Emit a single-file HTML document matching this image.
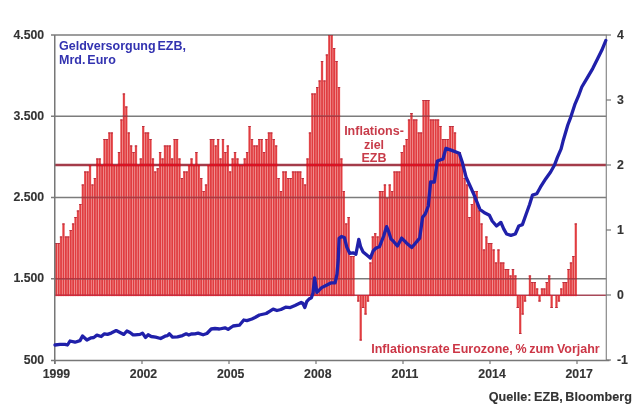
<!DOCTYPE html><html><head><meta charset="utf-8"><style>html,body{margin:0;padding:0;background:#fff;}svg{display:block;filter:blur(0.5px);}text{font-family:"Liberation Sans",sans-serif;font-weight:bold;}</style></head><body>
<svg width="640" height="417" viewBox="0 0 640 417">
<rect width="640" height="417" fill="#fff"/>
<defs><clipPath id="bc"><rect x="55.00" y="243.00" width="2.44" height="53.10"/><rect x="57.42" y="243.00" width="2.44" height="53.10"/><rect x="59.83" y="236.50" width="2.44" height="59.60"/><rect x="62.25" y="223.50" width="2.44" height="72.60"/><rect x="64.67" y="236.50" width="2.44" height="59.60"/><rect x="67.08" y="236.50" width="2.44" height="59.60"/><rect x="69.50" y="230.00" width="2.44" height="66.10"/><rect x="71.92" y="223.50" width="2.44" height="72.60"/><rect x="74.33" y="217.00" width="2.44" height="79.10"/><rect x="76.75" y="210.50" width="2.44" height="85.60"/><rect x="79.17" y="204.00" width="2.44" height="92.10"/><rect x="81.58" y="184.50" width="2.44" height="111.60"/><rect x="84.00" y="171.50" width="2.44" height="124.60"/><rect x="86.42" y="171.50" width="2.44" height="124.60"/><rect x="88.83" y="165.00" width="2.44" height="131.10"/><rect x="91.25" y="184.50" width="2.44" height="111.60"/><rect x="93.67" y="178.00" width="2.44" height="118.10"/><rect x="96.08" y="158.50" width="2.44" height="137.60"/><rect x="98.50" y="158.50" width="2.44" height="137.60"/><rect x="100.92" y="165.00" width="2.44" height="131.10"/><rect x="103.33" y="139.00" width="2.44" height="157.10"/><rect x="105.75" y="139.00" width="2.44" height="157.10"/><rect x="108.17" y="132.50" width="2.44" height="163.60"/><rect x="110.58" y="132.50" width="2.44" height="163.60"/><rect x="113.00" y="165.00" width="2.44" height="131.10"/><rect x="115.42" y="165.00" width="2.44" height="131.10"/><rect x="117.83" y="152.00" width="2.44" height="144.10"/><rect x="120.25" y="119.50" width="2.44" height="176.60"/><rect x="122.67" y="93.50" width="2.44" height="202.60"/><rect x="125.08" y="106.50" width="2.44" height="189.60"/><rect x="127.50" y="132.50" width="2.44" height="163.60"/><rect x="129.92" y="145.50" width="2.44" height="150.60"/><rect x="132.33" y="152.00" width="2.44" height="144.10"/><rect x="134.75" y="145.50" width="2.44" height="150.60"/><rect x="137.17" y="165.00" width="2.44" height="131.10"/><rect x="139.58" y="158.50" width="2.44" height="137.60"/><rect x="142.00" y="126.00" width="2.44" height="170.10"/><rect x="144.42" y="132.50" width="2.44" height="163.60"/><rect x="146.83" y="132.50" width="2.44" height="163.60"/><rect x="149.25" y="139.00" width="2.44" height="157.10"/><rect x="151.67" y="158.50" width="2.44" height="137.60"/><rect x="154.08" y="171.50" width="2.44" height="124.60"/><rect x="156.50" y="168.25" width="2.44" height="127.85"/><rect x="158.92" y="152.00" width="2.44" height="144.10"/><rect x="161.33" y="158.50" width="2.44" height="137.60"/><rect x="163.75" y="145.50" width="2.44" height="150.60"/><rect x="166.17" y="145.50" width="2.44" height="150.60"/><rect x="168.58" y="145.50" width="2.44" height="150.60"/><rect x="171.00" y="158.50" width="2.44" height="137.60"/><rect x="173.42" y="139.00" width="2.44" height="157.10"/><rect x="175.83" y="139.00" width="2.44" height="157.10"/><rect x="178.25" y="158.50" width="2.44" height="137.60"/><rect x="180.67" y="178.00" width="2.44" height="118.10"/><rect x="183.08" y="171.50" width="2.44" height="124.60"/><rect x="185.50" y="171.50" width="2.44" height="124.60"/><rect x="187.92" y="165.00" width="2.44" height="131.10"/><rect x="190.33" y="158.50" width="2.44" height="137.60"/><rect x="192.75" y="165.00" width="2.44" height="131.10"/><rect x="195.17" y="152.00" width="2.44" height="144.10"/><rect x="197.58" y="165.00" width="2.44" height="131.10"/><rect x="200.00" y="178.00" width="2.44" height="118.10"/><rect x="202.42" y="191.00" width="2.44" height="105.10"/><rect x="204.83" y="184.50" width="2.44" height="111.60"/><rect x="207.25" y="165.00" width="2.44" height="131.10"/><rect x="209.67" y="139.00" width="2.44" height="157.10"/><rect x="212.08" y="139.00" width="2.44" height="157.10"/><rect x="214.50" y="145.50" width="2.44" height="150.60"/><rect x="216.92" y="139.00" width="2.44" height="157.10"/><rect x="219.33" y="158.50" width="2.44" height="137.60"/><rect x="221.75" y="139.00" width="2.44" height="157.10"/><rect x="224.17" y="152.00" width="2.44" height="144.10"/><rect x="226.58" y="145.50" width="2.44" height="150.60"/><rect x="229.00" y="171.50" width="2.44" height="124.60"/><rect x="231.42" y="158.50" width="2.44" height="137.60"/><rect x="233.83" y="152.00" width="2.44" height="144.10"/><rect x="236.25" y="158.50" width="2.44" height="137.60"/><rect x="238.67" y="165.00" width="2.44" height="131.10"/><rect x="241.08" y="165.00" width="2.44" height="131.10"/><rect x="243.50" y="158.50" width="2.44" height="137.60"/><rect x="245.92" y="152.00" width="2.44" height="144.10"/><rect x="248.33" y="126.00" width="2.44" height="170.10"/><rect x="250.75" y="139.00" width="2.44" height="157.10"/><rect x="253.17" y="145.50" width="2.44" height="150.60"/><rect x="255.58" y="145.50" width="2.44" height="150.60"/><rect x="258.00" y="139.00" width="2.44" height="157.10"/><rect x="260.42" y="139.00" width="2.44" height="157.10"/><rect x="262.83" y="152.00" width="2.44" height="144.10"/><rect x="265.25" y="139.00" width="2.44" height="157.10"/><rect x="267.67" y="132.50" width="2.44" height="163.60"/><rect x="270.08" y="132.50" width="2.44" height="163.60"/><rect x="272.50" y="139.00" width="2.44" height="157.10"/><rect x="274.92" y="145.50" width="2.44" height="150.60"/><rect x="277.33" y="178.00" width="2.44" height="118.10"/><rect x="279.75" y="191.00" width="2.44" height="105.10"/><rect x="282.17" y="171.50" width="2.44" height="124.60"/><rect x="284.58" y="171.50" width="2.44" height="124.60"/><rect x="287.00" y="178.00" width="2.44" height="118.10"/><rect x="289.42" y="178.00" width="2.44" height="118.10"/><rect x="291.83" y="171.50" width="2.44" height="124.60"/><rect x="294.25" y="171.50" width="2.44" height="124.60"/><rect x="296.67" y="171.50" width="2.44" height="124.60"/><rect x="299.08" y="171.50" width="2.44" height="124.60"/><rect x="301.50" y="178.00" width="2.44" height="118.10"/><rect x="303.92" y="184.50" width="2.44" height="111.60"/><rect x="306.33" y="158.50" width="2.44" height="137.60"/><rect x="308.75" y="132.50" width="2.44" height="163.60"/><rect x="311.17" y="93.50" width="2.44" height="202.60"/><rect x="313.58" y="93.50" width="2.44" height="202.60"/><rect x="316.00" y="87.00" width="2.44" height="209.10"/><rect x="318.42" y="80.50" width="2.44" height="215.60"/><rect x="320.83" y="61.00" width="2.44" height="235.10"/><rect x="323.25" y="80.50" width="2.44" height="215.60"/><rect x="325.67" y="54.50" width="2.44" height="241.60"/><rect x="328.08" y="35.00" width="2.44" height="261.10"/><rect x="330.50" y="35.00" width="2.44" height="261.10"/><rect x="332.92" y="48.00" width="2.44" height="248.10"/><rect x="335.33" y="61.00" width="2.44" height="235.10"/><rect x="337.75" y="87.00" width="2.44" height="209.10"/><rect x="340.17" y="158.50" width="2.44" height="137.60"/><rect x="342.58" y="191.00" width="2.44" height="105.10"/><rect x="345.00" y="223.50" width="2.44" height="72.60"/><rect x="347.42" y="217.00" width="2.44" height="79.10"/><rect x="349.83" y="256.00" width="2.44" height="40.10"/><rect x="352.25" y="256.00" width="2.44" height="40.10"/><rect x="354.67" y="295.00" width="2.44" height="0.00"/><rect x="357.08" y="295.00" width="2.44" height="6.50"/><rect x="359.50" y="295.00" width="2.44" height="45.50"/><rect x="361.92" y="295.00" width="2.44" height="13.00"/><rect x="364.33" y="295.00" width="2.44" height="19.50"/><rect x="366.75" y="295.00" width="2.44" height="6.50"/><rect x="369.17" y="262.50" width="2.44" height="33.60"/><rect x="371.58" y="236.50" width="2.44" height="59.60"/><rect x="374.00" y="233.25" width="2.44" height="62.85"/><rect x="376.42" y="236.50" width="2.44" height="59.60"/><rect x="378.83" y="191.00" width="2.44" height="105.10"/><rect x="381.25" y="191.00" width="2.44" height="105.10"/><rect x="383.67" y="184.50" width="2.44" height="111.60"/><rect x="386.08" y="197.50" width="2.44" height="98.60"/><rect x="388.50" y="184.50" width="2.44" height="111.60"/><rect x="390.92" y="191.00" width="2.44" height="105.10"/><rect x="393.33" y="171.50" width="2.44" height="124.60"/><rect x="395.75" y="171.50" width="2.44" height="124.60"/><rect x="398.17" y="171.50" width="2.44" height="124.60"/><rect x="400.58" y="152.00" width="2.44" height="144.10"/><rect x="403.00" y="145.50" width="2.44" height="150.60"/><rect x="405.42" y="139.00" width="2.44" height="157.10"/><rect x="407.83" y="119.50" width="2.44" height="176.60"/><rect x="410.25" y="113.00" width="2.44" height="183.10"/><rect x="412.67" y="119.50" width="2.44" height="176.60"/><rect x="415.08" y="119.50" width="2.44" height="176.60"/><rect x="417.50" y="132.50" width="2.44" height="163.60"/><rect x="419.92" y="132.50" width="2.44" height="163.60"/><rect x="422.33" y="100.00" width="2.44" height="196.10"/><rect x="424.75" y="100.00" width="2.44" height="196.10"/><rect x="427.17" y="100.00" width="2.44" height="196.10"/><rect x="429.58" y="119.50" width="2.44" height="176.60"/><rect x="432.00" y="119.50" width="2.44" height="176.60"/><rect x="434.42" y="119.50" width="2.44" height="176.60"/><rect x="436.83" y="119.50" width="2.44" height="176.60"/><rect x="439.25" y="126.00" width="2.44" height="170.10"/><rect x="441.67" y="139.00" width="2.44" height="157.10"/><rect x="444.08" y="139.00" width="2.44" height="157.10"/><rect x="446.50" y="139.00" width="2.44" height="157.10"/><rect x="448.92" y="126.00" width="2.44" height="170.10"/><rect x="451.33" y="126.00" width="2.44" height="170.10"/><rect x="453.75" y="132.50" width="2.44" height="163.60"/><rect x="456.17" y="152.00" width="2.44" height="144.10"/><rect x="458.58" y="152.00" width="2.44" height="144.10"/><rect x="461.00" y="165.00" width="2.44" height="131.10"/><rect x="463.42" y="178.00" width="2.44" height="118.10"/><rect x="465.83" y="184.50" width="2.44" height="111.60"/><rect x="468.25" y="217.00" width="2.44" height="79.10"/><rect x="470.67" y="204.00" width="2.44" height="92.10"/><rect x="473.08" y="191.00" width="2.44" height="105.10"/><rect x="475.50" y="191.00" width="2.44" height="105.10"/><rect x="477.92" y="210.50" width="2.44" height="85.60"/><rect x="480.33" y="223.50" width="2.44" height="72.60"/><rect x="482.75" y="249.50" width="2.44" height="46.60"/><rect x="485.17" y="236.50" width="2.44" height="59.60"/><rect x="487.58" y="243.00" width="2.44" height="53.10"/><rect x="490.00" y="243.00" width="2.44" height="53.10"/><rect x="492.42" y="249.50" width="2.44" height="46.60"/><rect x="494.83" y="262.50" width="2.44" height="33.60"/><rect x="497.25" y="249.50" width="2.44" height="46.60"/><rect x="499.67" y="262.50" width="2.44" height="33.60"/><rect x="502.08" y="262.50" width="2.44" height="33.60"/><rect x="504.50" y="269.00" width="2.44" height="27.10"/><rect x="506.92" y="269.00" width="2.44" height="27.10"/><rect x="509.33" y="275.50" width="2.44" height="20.60"/><rect x="511.75" y="269.00" width="2.44" height="27.10"/><rect x="514.17" y="275.50" width="2.44" height="20.60"/><rect x="516.58" y="295.00" width="2.44" height="13.00"/><rect x="519.00" y="295.00" width="2.44" height="39.00"/><rect x="521.42" y="295.00" width="2.44" height="19.50"/><rect x="523.83" y="295.00" width="2.44" height="6.50"/><rect x="526.25" y="295.00" width="2.44" height="0.00"/><rect x="528.67" y="275.50" width="2.44" height="20.60"/><rect x="531.08" y="282.00" width="2.44" height="14.10"/><rect x="533.50" y="282.00" width="2.44" height="14.10"/><rect x="535.92" y="288.50" width="2.44" height="7.60"/><rect x="538.33" y="295.00" width="2.44" height="6.50"/><rect x="540.75" y="288.50" width="2.44" height="7.60"/><rect x="543.17" y="288.50" width="2.44" height="7.60"/><rect x="545.58" y="282.00" width="2.44" height="14.10"/><rect x="548.00" y="275.50" width="2.44" height="20.60"/><rect x="550.42" y="295.00" width="2.44" height="13.00"/><rect x="552.83" y="295.00" width="2.44" height="0.00"/><rect x="555.25" y="295.00" width="2.44" height="13.00"/><rect x="557.67" y="295.00" width="2.44" height="6.50"/><rect x="560.08" y="288.50" width="2.44" height="7.60"/><rect x="562.50" y="282.00" width="2.44" height="14.10"/><rect x="564.92" y="282.00" width="2.44" height="14.10"/><rect x="567.33" y="269.00" width="2.44" height="27.10"/><rect x="569.75" y="262.50" width="2.44" height="33.60"/><rect x="572.17" y="256.00" width="2.44" height="40.10"/><rect x="574.58" y="223.50" width="2.44" height="72.60"/></clipPath></defs>
<g fill="#f29898"><rect x="55.00" y="243.00" width="2.44" height="53.10"/><rect x="57.42" y="243.00" width="2.44" height="53.10"/><rect x="59.83" y="236.50" width="2.44" height="59.60"/><rect x="62.25" y="223.50" width="2.44" height="72.60"/><rect x="64.67" y="236.50" width="2.44" height="59.60"/><rect x="67.08" y="236.50" width="2.44" height="59.60"/><rect x="69.50" y="230.00" width="2.44" height="66.10"/><rect x="71.92" y="223.50" width="2.44" height="72.60"/><rect x="74.33" y="217.00" width="2.44" height="79.10"/><rect x="76.75" y="210.50" width="2.44" height="85.60"/><rect x="79.17" y="204.00" width="2.44" height="92.10"/><rect x="81.58" y="184.50" width="2.44" height="111.60"/><rect x="84.00" y="171.50" width="2.44" height="124.60"/><rect x="86.42" y="171.50" width="2.44" height="124.60"/><rect x="88.83" y="165.00" width="2.44" height="131.10"/><rect x="91.25" y="184.50" width="2.44" height="111.60"/><rect x="93.67" y="178.00" width="2.44" height="118.10"/><rect x="96.08" y="158.50" width="2.44" height="137.60"/><rect x="98.50" y="158.50" width="2.44" height="137.60"/><rect x="100.92" y="165.00" width="2.44" height="131.10"/><rect x="103.33" y="139.00" width="2.44" height="157.10"/><rect x="105.75" y="139.00" width="2.44" height="157.10"/><rect x="108.17" y="132.50" width="2.44" height="163.60"/><rect x="110.58" y="132.50" width="2.44" height="163.60"/><rect x="113.00" y="165.00" width="2.44" height="131.10"/><rect x="115.42" y="165.00" width="2.44" height="131.10"/><rect x="117.83" y="152.00" width="2.44" height="144.10"/><rect x="120.25" y="119.50" width="2.44" height="176.60"/><rect x="122.67" y="93.50" width="2.44" height="202.60"/><rect x="125.08" y="106.50" width="2.44" height="189.60"/><rect x="127.50" y="132.50" width="2.44" height="163.60"/><rect x="129.92" y="145.50" width="2.44" height="150.60"/><rect x="132.33" y="152.00" width="2.44" height="144.10"/><rect x="134.75" y="145.50" width="2.44" height="150.60"/><rect x="137.17" y="165.00" width="2.44" height="131.10"/><rect x="139.58" y="158.50" width="2.44" height="137.60"/><rect x="142.00" y="126.00" width="2.44" height="170.10"/><rect x="144.42" y="132.50" width="2.44" height="163.60"/><rect x="146.83" y="132.50" width="2.44" height="163.60"/><rect x="149.25" y="139.00" width="2.44" height="157.10"/><rect x="151.67" y="158.50" width="2.44" height="137.60"/><rect x="154.08" y="171.50" width="2.44" height="124.60"/><rect x="156.50" y="168.25" width="2.44" height="127.85"/><rect x="158.92" y="152.00" width="2.44" height="144.10"/><rect x="161.33" y="158.50" width="2.44" height="137.60"/><rect x="163.75" y="145.50" width="2.44" height="150.60"/><rect x="166.17" y="145.50" width="2.44" height="150.60"/><rect x="168.58" y="145.50" width="2.44" height="150.60"/><rect x="171.00" y="158.50" width="2.44" height="137.60"/><rect x="173.42" y="139.00" width="2.44" height="157.10"/><rect x="175.83" y="139.00" width="2.44" height="157.10"/><rect x="178.25" y="158.50" width="2.44" height="137.60"/><rect x="180.67" y="178.00" width="2.44" height="118.10"/><rect x="183.08" y="171.50" width="2.44" height="124.60"/><rect x="185.50" y="171.50" width="2.44" height="124.60"/><rect x="187.92" y="165.00" width="2.44" height="131.10"/><rect x="190.33" y="158.50" width="2.44" height="137.60"/><rect x="192.75" y="165.00" width="2.44" height="131.10"/><rect x="195.17" y="152.00" width="2.44" height="144.10"/><rect x="197.58" y="165.00" width="2.44" height="131.10"/><rect x="200.00" y="178.00" width="2.44" height="118.10"/><rect x="202.42" y="191.00" width="2.44" height="105.10"/><rect x="204.83" y="184.50" width="2.44" height="111.60"/><rect x="207.25" y="165.00" width="2.44" height="131.10"/><rect x="209.67" y="139.00" width="2.44" height="157.10"/><rect x="212.08" y="139.00" width="2.44" height="157.10"/><rect x="214.50" y="145.50" width="2.44" height="150.60"/><rect x="216.92" y="139.00" width="2.44" height="157.10"/><rect x="219.33" y="158.50" width="2.44" height="137.60"/><rect x="221.75" y="139.00" width="2.44" height="157.10"/><rect x="224.17" y="152.00" width="2.44" height="144.10"/><rect x="226.58" y="145.50" width="2.44" height="150.60"/><rect x="229.00" y="171.50" width="2.44" height="124.60"/><rect x="231.42" y="158.50" width="2.44" height="137.60"/><rect x="233.83" y="152.00" width="2.44" height="144.10"/><rect x="236.25" y="158.50" width="2.44" height="137.60"/><rect x="238.67" y="165.00" width="2.44" height="131.10"/><rect x="241.08" y="165.00" width="2.44" height="131.10"/><rect x="243.50" y="158.50" width="2.44" height="137.60"/><rect x="245.92" y="152.00" width="2.44" height="144.10"/><rect x="248.33" y="126.00" width="2.44" height="170.10"/><rect x="250.75" y="139.00" width="2.44" height="157.10"/><rect x="253.17" y="145.50" width="2.44" height="150.60"/><rect x="255.58" y="145.50" width="2.44" height="150.60"/><rect x="258.00" y="139.00" width="2.44" height="157.10"/><rect x="260.42" y="139.00" width="2.44" height="157.10"/><rect x="262.83" y="152.00" width="2.44" height="144.10"/><rect x="265.25" y="139.00" width="2.44" height="157.10"/><rect x="267.67" y="132.50" width="2.44" height="163.60"/><rect x="270.08" y="132.50" width="2.44" height="163.60"/><rect x="272.50" y="139.00" width="2.44" height="157.10"/><rect x="274.92" y="145.50" width="2.44" height="150.60"/><rect x="277.33" y="178.00" width="2.44" height="118.10"/><rect x="279.75" y="191.00" width="2.44" height="105.10"/><rect x="282.17" y="171.50" width="2.44" height="124.60"/><rect x="284.58" y="171.50" width="2.44" height="124.60"/><rect x="287.00" y="178.00" width="2.44" height="118.10"/><rect x="289.42" y="178.00" width="2.44" height="118.10"/><rect x="291.83" y="171.50" width="2.44" height="124.60"/><rect x="294.25" y="171.50" width="2.44" height="124.60"/><rect x="296.67" y="171.50" width="2.44" height="124.60"/><rect x="299.08" y="171.50" width="2.44" height="124.60"/><rect x="301.50" y="178.00" width="2.44" height="118.10"/><rect x="303.92" y="184.50" width="2.44" height="111.60"/><rect x="306.33" y="158.50" width="2.44" height="137.60"/><rect x="308.75" y="132.50" width="2.44" height="163.60"/><rect x="311.17" y="93.50" width="2.44" height="202.60"/><rect x="313.58" y="93.50" width="2.44" height="202.60"/><rect x="316.00" y="87.00" width="2.44" height="209.10"/><rect x="318.42" y="80.50" width="2.44" height="215.60"/><rect x="320.83" y="61.00" width="2.44" height="235.10"/><rect x="323.25" y="80.50" width="2.44" height="215.60"/><rect x="325.67" y="54.50" width="2.44" height="241.60"/><rect x="328.08" y="35.00" width="2.44" height="261.10"/><rect x="330.50" y="35.00" width="2.44" height="261.10"/><rect x="332.92" y="48.00" width="2.44" height="248.10"/><rect x="335.33" y="61.00" width="2.44" height="235.10"/><rect x="337.75" y="87.00" width="2.44" height="209.10"/><rect x="340.17" y="158.50" width="2.44" height="137.60"/><rect x="342.58" y="191.00" width="2.44" height="105.10"/><rect x="345.00" y="223.50" width="2.44" height="72.60"/><rect x="347.42" y="217.00" width="2.44" height="79.10"/><rect x="349.83" y="256.00" width="2.44" height="40.10"/><rect x="352.25" y="256.00" width="2.44" height="40.10"/><rect x="354.67" y="295.00" width="2.44" height="0.00"/><rect x="357.08" y="295.00" width="2.44" height="6.50"/><rect x="359.50" y="295.00" width="2.44" height="45.50"/><rect x="361.92" y="295.00" width="2.44" height="13.00"/><rect x="364.33" y="295.00" width="2.44" height="19.50"/><rect x="366.75" y="295.00" width="2.44" height="6.50"/><rect x="369.17" y="262.50" width="2.44" height="33.60"/><rect x="371.58" y="236.50" width="2.44" height="59.60"/><rect x="374.00" y="233.25" width="2.44" height="62.85"/><rect x="376.42" y="236.50" width="2.44" height="59.60"/><rect x="378.83" y="191.00" width="2.44" height="105.10"/><rect x="381.25" y="191.00" width="2.44" height="105.10"/><rect x="383.67" y="184.50" width="2.44" height="111.60"/><rect x="386.08" y="197.50" width="2.44" height="98.60"/><rect x="388.50" y="184.50" width="2.44" height="111.60"/><rect x="390.92" y="191.00" width="2.44" height="105.10"/><rect x="393.33" y="171.50" width="2.44" height="124.60"/><rect x="395.75" y="171.50" width="2.44" height="124.60"/><rect x="398.17" y="171.50" width="2.44" height="124.60"/><rect x="400.58" y="152.00" width="2.44" height="144.10"/><rect x="403.00" y="145.50" width="2.44" height="150.60"/><rect x="405.42" y="139.00" width="2.44" height="157.10"/><rect x="407.83" y="119.50" width="2.44" height="176.60"/><rect x="410.25" y="113.00" width="2.44" height="183.10"/><rect x="412.67" y="119.50" width="2.44" height="176.60"/><rect x="415.08" y="119.50" width="2.44" height="176.60"/><rect x="417.50" y="132.50" width="2.44" height="163.60"/><rect x="419.92" y="132.50" width="2.44" height="163.60"/><rect x="422.33" y="100.00" width="2.44" height="196.10"/><rect x="424.75" y="100.00" width="2.44" height="196.10"/><rect x="427.17" y="100.00" width="2.44" height="196.10"/><rect x="429.58" y="119.50" width="2.44" height="176.60"/><rect x="432.00" y="119.50" width="2.44" height="176.60"/><rect x="434.42" y="119.50" width="2.44" height="176.60"/><rect x="436.83" y="119.50" width="2.44" height="176.60"/><rect x="439.25" y="126.00" width="2.44" height="170.10"/><rect x="441.67" y="139.00" width="2.44" height="157.10"/><rect x="444.08" y="139.00" width="2.44" height="157.10"/><rect x="446.50" y="139.00" width="2.44" height="157.10"/><rect x="448.92" y="126.00" width="2.44" height="170.10"/><rect x="451.33" y="126.00" width="2.44" height="170.10"/><rect x="453.75" y="132.50" width="2.44" height="163.60"/><rect x="456.17" y="152.00" width="2.44" height="144.10"/><rect x="458.58" y="152.00" width="2.44" height="144.10"/><rect x="461.00" y="165.00" width="2.44" height="131.10"/><rect x="463.42" y="178.00" width="2.44" height="118.10"/><rect x="465.83" y="184.50" width="2.44" height="111.60"/><rect x="468.25" y="217.00" width="2.44" height="79.10"/><rect x="470.67" y="204.00" width="2.44" height="92.10"/><rect x="473.08" y="191.00" width="2.44" height="105.10"/><rect x="475.50" y="191.00" width="2.44" height="105.10"/><rect x="477.92" y="210.50" width="2.44" height="85.60"/><rect x="480.33" y="223.50" width="2.44" height="72.60"/><rect x="482.75" y="249.50" width="2.44" height="46.60"/><rect x="485.17" y="236.50" width="2.44" height="59.60"/><rect x="487.58" y="243.00" width="2.44" height="53.10"/><rect x="490.00" y="243.00" width="2.44" height="53.10"/><rect x="492.42" y="249.50" width="2.44" height="46.60"/><rect x="494.83" y="262.50" width="2.44" height="33.60"/><rect x="497.25" y="249.50" width="2.44" height="46.60"/><rect x="499.67" y="262.50" width="2.44" height="33.60"/><rect x="502.08" y="262.50" width="2.44" height="33.60"/><rect x="504.50" y="269.00" width="2.44" height="27.10"/><rect x="506.92" y="269.00" width="2.44" height="27.10"/><rect x="509.33" y="275.50" width="2.44" height="20.60"/><rect x="511.75" y="269.00" width="2.44" height="27.10"/><rect x="514.17" y="275.50" width="2.44" height="20.60"/><rect x="516.58" y="295.00" width="2.44" height="13.00"/><rect x="519.00" y="295.00" width="2.44" height="39.00"/><rect x="521.42" y="295.00" width="2.44" height="19.50"/><rect x="523.83" y="295.00" width="2.44" height="6.50"/><rect x="526.25" y="295.00" width="2.44" height="0.00"/><rect x="528.67" y="275.50" width="2.44" height="20.60"/><rect x="531.08" y="282.00" width="2.44" height="14.10"/><rect x="533.50" y="282.00" width="2.44" height="14.10"/><rect x="535.92" y="288.50" width="2.44" height="7.60"/><rect x="538.33" y="295.00" width="2.44" height="6.50"/><rect x="540.75" y="288.50" width="2.44" height="7.60"/><rect x="543.17" y="288.50" width="2.44" height="7.60"/><rect x="545.58" y="282.00" width="2.44" height="14.10"/><rect x="548.00" y="275.50" width="2.44" height="20.60"/><rect x="550.42" y="295.00" width="2.44" height="13.00"/><rect x="552.83" y="295.00" width="2.44" height="0.00"/><rect x="555.25" y="295.00" width="2.44" height="13.00"/><rect x="557.67" y="295.00" width="2.44" height="6.50"/><rect x="560.08" y="288.50" width="2.44" height="7.60"/><rect x="562.50" y="282.00" width="2.44" height="14.10"/><rect x="564.92" y="282.00" width="2.44" height="14.10"/><rect x="567.33" y="269.00" width="2.44" height="27.10"/><rect x="569.75" y="262.50" width="2.44" height="33.60"/><rect x="572.17" y="256.00" width="2.44" height="40.10"/><rect x="574.58" y="223.50" width="2.44" height="72.60"/></g>
<g fill="#e03c40"><rect x="55.35" y="243.00" width="1.72" height="53.10"/><rect x="57.77" y="243.00" width="1.72" height="53.10"/><rect x="60.18" y="236.50" width="1.72" height="59.60"/><rect x="62.60" y="223.50" width="1.72" height="72.60"/><rect x="65.02" y="236.50" width="1.72" height="59.60"/><rect x="67.43" y="236.50" width="1.72" height="59.60"/><rect x="69.85" y="230.00" width="1.72" height="66.10"/><rect x="72.27" y="223.50" width="1.72" height="72.60"/><rect x="74.68" y="217.00" width="1.72" height="79.10"/><rect x="77.10" y="210.50" width="1.72" height="85.60"/><rect x="79.52" y="204.00" width="1.72" height="92.10"/><rect x="81.93" y="184.50" width="1.72" height="111.60"/><rect x="84.35" y="171.50" width="1.72" height="124.60"/><rect x="86.77" y="171.50" width="1.72" height="124.60"/><rect x="89.18" y="165.00" width="1.72" height="131.10"/><rect x="91.60" y="184.50" width="1.72" height="111.60"/><rect x="94.02" y="178.00" width="1.72" height="118.10"/><rect x="96.43" y="158.50" width="1.72" height="137.60"/><rect x="98.85" y="158.50" width="1.72" height="137.60"/><rect x="101.27" y="165.00" width="1.72" height="131.10"/><rect x="103.68" y="139.00" width="1.72" height="157.10"/><rect x="106.10" y="139.00" width="1.72" height="157.10"/><rect x="108.52" y="132.50" width="1.72" height="163.60"/><rect x="110.93" y="132.50" width="1.72" height="163.60"/><rect x="113.35" y="165.00" width="1.72" height="131.10"/><rect x="115.77" y="165.00" width="1.72" height="131.10"/><rect x="118.18" y="152.00" width="1.72" height="144.10"/><rect x="120.60" y="119.50" width="1.72" height="176.60"/><rect x="123.02" y="93.50" width="1.72" height="202.60"/><rect x="125.43" y="106.50" width="1.72" height="189.60"/><rect x="127.85" y="132.50" width="1.72" height="163.60"/><rect x="130.27" y="145.50" width="1.72" height="150.60"/><rect x="132.68" y="152.00" width="1.72" height="144.10"/><rect x="135.10" y="145.50" width="1.72" height="150.60"/><rect x="137.52" y="165.00" width="1.72" height="131.10"/><rect x="139.93" y="158.50" width="1.72" height="137.60"/><rect x="142.35" y="126.00" width="1.72" height="170.10"/><rect x="144.77" y="132.50" width="1.72" height="163.60"/><rect x="147.18" y="132.50" width="1.72" height="163.60"/><rect x="149.60" y="139.00" width="1.72" height="157.10"/><rect x="152.02" y="158.50" width="1.72" height="137.60"/><rect x="154.43" y="171.50" width="1.72" height="124.60"/><rect x="156.85" y="168.25" width="1.72" height="127.85"/><rect x="159.27" y="152.00" width="1.72" height="144.10"/><rect x="161.68" y="158.50" width="1.72" height="137.60"/><rect x="164.10" y="145.50" width="1.72" height="150.60"/><rect x="166.52" y="145.50" width="1.72" height="150.60"/><rect x="168.93" y="145.50" width="1.72" height="150.60"/><rect x="171.35" y="158.50" width="1.72" height="137.60"/><rect x="173.77" y="139.00" width="1.72" height="157.10"/><rect x="176.18" y="139.00" width="1.72" height="157.10"/><rect x="178.60" y="158.50" width="1.72" height="137.60"/><rect x="181.02" y="178.00" width="1.72" height="118.10"/><rect x="183.43" y="171.50" width="1.72" height="124.60"/><rect x="185.85" y="171.50" width="1.72" height="124.60"/><rect x="188.27" y="165.00" width="1.72" height="131.10"/><rect x="190.68" y="158.50" width="1.72" height="137.60"/><rect x="193.10" y="165.00" width="1.72" height="131.10"/><rect x="195.52" y="152.00" width="1.72" height="144.10"/><rect x="197.93" y="165.00" width="1.72" height="131.10"/><rect x="200.35" y="178.00" width="1.72" height="118.10"/><rect x="202.77" y="191.00" width="1.72" height="105.10"/><rect x="205.18" y="184.50" width="1.72" height="111.60"/><rect x="207.60" y="165.00" width="1.72" height="131.10"/><rect x="210.02" y="139.00" width="1.72" height="157.10"/><rect x="212.43" y="139.00" width="1.72" height="157.10"/><rect x="214.85" y="145.50" width="1.72" height="150.60"/><rect x="217.27" y="139.00" width="1.72" height="157.10"/><rect x="219.68" y="158.50" width="1.72" height="137.60"/><rect x="222.10" y="139.00" width="1.72" height="157.10"/><rect x="224.52" y="152.00" width="1.72" height="144.10"/><rect x="226.93" y="145.50" width="1.72" height="150.60"/><rect x="229.35" y="171.50" width="1.72" height="124.60"/><rect x="231.77" y="158.50" width="1.72" height="137.60"/><rect x="234.18" y="152.00" width="1.72" height="144.10"/><rect x="236.60" y="158.50" width="1.72" height="137.60"/><rect x="239.02" y="165.00" width="1.72" height="131.10"/><rect x="241.43" y="165.00" width="1.72" height="131.10"/><rect x="243.85" y="158.50" width="1.72" height="137.60"/><rect x="246.27" y="152.00" width="1.72" height="144.10"/><rect x="248.68" y="126.00" width="1.72" height="170.10"/><rect x="251.10" y="139.00" width="1.72" height="157.10"/><rect x="253.52" y="145.50" width="1.72" height="150.60"/><rect x="255.93" y="145.50" width="1.72" height="150.60"/><rect x="258.35" y="139.00" width="1.72" height="157.10"/><rect x="260.77" y="139.00" width="1.72" height="157.10"/><rect x="263.18" y="152.00" width="1.72" height="144.10"/><rect x="265.60" y="139.00" width="1.72" height="157.10"/><rect x="268.02" y="132.50" width="1.72" height="163.60"/><rect x="270.43" y="132.50" width="1.72" height="163.60"/><rect x="272.85" y="139.00" width="1.72" height="157.10"/><rect x="275.27" y="145.50" width="1.72" height="150.60"/><rect x="277.68" y="178.00" width="1.72" height="118.10"/><rect x="280.10" y="191.00" width="1.72" height="105.10"/><rect x="282.52" y="171.50" width="1.72" height="124.60"/><rect x="284.93" y="171.50" width="1.72" height="124.60"/><rect x="287.35" y="178.00" width="1.72" height="118.10"/><rect x="289.77" y="178.00" width="1.72" height="118.10"/><rect x="292.18" y="171.50" width="1.72" height="124.60"/><rect x="294.60" y="171.50" width="1.72" height="124.60"/><rect x="297.02" y="171.50" width="1.72" height="124.60"/><rect x="299.43" y="171.50" width="1.72" height="124.60"/><rect x="301.85" y="178.00" width="1.72" height="118.10"/><rect x="304.27" y="184.50" width="1.72" height="111.60"/><rect x="306.68" y="158.50" width="1.72" height="137.60"/><rect x="309.10" y="132.50" width="1.72" height="163.60"/><rect x="311.52" y="93.50" width="1.72" height="202.60"/><rect x="313.93" y="93.50" width="1.72" height="202.60"/><rect x="316.35" y="87.00" width="1.72" height="209.10"/><rect x="318.77" y="80.50" width="1.72" height="215.60"/><rect x="321.18" y="61.00" width="1.72" height="235.10"/><rect x="323.60" y="80.50" width="1.72" height="215.60"/><rect x="326.02" y="54.50" width="1.72" height="241.60"/><rect x="328.43" y="35.00" width="1.72" height="261.10"/><rect x="330.85" y="35.00" width="1.72" height="261.10"/><rect x="333.27" y="48.00" width="1.72" height="248.10"/><rect x="335.68" y="61.00" width="1.72" height="235.10"/><rect x="338.10" y="87.00" width="1.72" height="209.10"/><rect x="340.52" y="158.50" width="1.72" height="137.60"/><rect x="342.93" y="191.00" width="1.72" height="105.10"/><rect x="345.35" y="223.50" width="1.72" height="72.60"/><rect x="347.77" y="217.00" width="1.72" height="79.10"/><rect x="350.18" y="256.00" width="1.72" height="40.10"/><rect x="352.60" y="256.00" width="1.72" height="40.10"/><rect x="355.02" y="295.00" width="1.72" height="0.00"/><rect x="357.43" y="295.00" width="1.72" height="6.50"/><rect x="359.85" y="295.00" width="1.72" height="45.50"/><rect x="362.27" y="295.00" width="1.72" height="13.00"/><rect x="364.68" y="295.00" width="1.72" height="19.50"/><rect x="367.10" y="295.00" width="1.72" height="6.50"/><rect x="369.52" y="262.50" width="1.72" height="33.60"/><rect x="371.93" y="236.50" width="1.72" height="59.60"/><rect x="374.35" y="233.25" width="1.72" height="62.85"/><rect x="376.77" y="236.50" width="1.72" height="59.60"/><rect x="379.18" y="191.00" width="1.72" height="105.10"/><rect x="381.60" y="191.00" width="1.72" height="105.10"/><rect x="384.02" y="184.50" width="1.72" height="111.60"/><rect x="386.43" y="197.50" width="1.72" height="98.60"/><rect x="388.85" y="184.50" width="1.72" height="111.60"/><rect x="391.27" y="191.00" width="1.72" height="105.10"/><rect x="393.68" y="171.50" width="1.72" height="124.60"/><rect x="396.10" y="171.50" width="1.72" height="124.60"/><rect x="398.52" y="171.50" width="1.72" height="124.60"/><rect x="400.93" y="152.00" width="1.72" height="144.10"/><rect x="403.35" y="145.50" width="1.72" height="150.60"/><rect x="405.77" y="139.00" width="1.72" height="157.10"/><rect x="408.18" y="119.50" width="1.72" height="176.60"/><rect x="410.60" y="113.00" width="1.72" height="183.10"/><rect x="413.02" y="119.50" width="1.72" height="176.60"/><rect x="415.43" y="119.50" width="1.72" height="176.60"/><rect x="417.85" y="132.50" width="1.72" height="163.60"/><rect x="420.27" y="132.50" width="1.72" height="163.60"/><rect x="422.68" y="100.00" width="1.72" height="196.10"/><rect x="425.10" y="100.00" width="1.72" height="196.10"/><rect x="427.52" y="100.00" width="1.72" height="196.10"/><rect x="429.93" y="119.50" width="1.72" height="176.60"/><rect x="432.35" y="119.50" width="1.72" height="176.60"/><rect x="434.77" y="119.50" width="1.72" height="176.60"/><rect x="437.18" y="119.50" width="1.72" height="176.60"/><rect x="439.60" y="126.00" width="1.72" height="170.10"/><rect x="442.02" y="139.00" width="1.72" height="157.10"/><rect x="444.43" y="139.00" width="1.72" height="157.10"/><rect x="446.85" y="139.00" width="1.72" height="157.10"/><rect x="449.27" y="126.00" width="1.72" height="170.10"/><rect x="451.68" y="126.00" width="1.72" height="170.10"/><rect x="454.10" y="132.50" width="1.72" height="163.60"/><rect x="456.52" y="152.00" width="1.72" height="144.10"/><rect x="458.93" y="152.00" width="1.72" height="144.10"/><rect x="461.35" y="165.00" width="1.72" height="131.10"/><rect x="463.77" y="178.00" width="1.72" height="118.10"/><rect x="466.18" y="184.50" width="1.72" height="111.60"/><rect x="468.60" y="217.00" width="1.72" height="79.10"/><rect x="471.02" y="204.00" width="1.72" height="92.10"/><rect x="473.43" y="191.00" width="1.72" height="105.10"/><rect x="475.85" y="191.00" width="1.72" height="105.10"/><rect x="478.27" y="210.50" width="1.72" height="85.60"/><rect x="480.68" y="223.50" width="1.72" height="72.60"/><rect x="483.10" y="249.50" width="1.72" height="46.60"/><rect x="485.52" y="236.50" width="1.72" height="59.60"/><rect x="487.93" y="243.00" width="1.72" height="53.10"/><rect x="490.35" y="243.00" width="1.72" height="53.10"/><rect x="492.77" y="249.50" width="1.72" height="46.60"/><rect x="495.18" y="262.50" width="1.72" height="33.60"/><rect x="497.60" y="249.50" width="1.72" height="46.60"/><rect x="500.02" y="262.50" width="1.72" height="33.60"/><rect x="502.43" y="262.50" width="1.72" height="33.60"/><rect x="504.85" y="269.00" width="1.72" height="27.10"/><rect x="507.27" y="269.00" width="1.72" height="27.10"/><rect x="509.68" y="275.50" width="1.72" height="20.60"/><rect x="512.10" y="269.00" width="1.72" height="27.10"/><rect x="514.52" y="275.50" width="1.72" height="20.60"/><rect x="516.93" y="295.00" width="1.72" height="13.00"/><rect x="519.35" y="295.00" width="1.72" height="39.00"/><rect x="521.77" y="295.00" width="1.72" height="19.50"/><rect x="524.18" y="295.00" width="1.72" height="6.50"/><rect x="526.60" y="295.00" width="1.72" height="0.00"/><rect x="529.02" y="275.50" width="1.72" height="20.60"/><rect x="531.43" y="282.00" width="1.72" height="14.10"/><rect x="533.85" y="282.00" width="1.72" height="14.10"/><rect x="536.27" y="288.50" width="1.72" height="7.60"/><rect x="538.68" y="295.00" width="1.72" height="6.50"/><rect x="541.10" y="288.50" width="1.72" height="7.60"/><rect x="543.52" y="288.50" width="1.72" height="7.60"/><rect x="545.93" y="282.00" width="1.72" height="14.10"/><rect x="548.35" y="275.50" width="1.72" height="20.60"/><rect x="550.77" y="295.00" width="1.72" height="13.00"/><rect x="553.18" y="295.00" width="1.72" height="0.00"/><rect x="555.60" y="295.00" width="1.72" height="13.00"/><rect x="558.02" y="295.00" width="1.72" height="6.50"/><rect x="560.43" y="288.50" width="1.72" height="7.60"/><rect x="562.85" y="282.00" width="1.72" height="14.10"/><rect x="565.27" y="282.00" width="1.72" height="14.10"/><rect x="567.68" y="269.00" width="1.72" height="27.10"/><rect x="570.10" y="262.50" width="1.72" height="33.60"/><rect x="572.52" y="256.00" width="1.72" height="40.10"/><rect x="574.93" y="223.50" width="1.72" height="72.60"/></g>
<g fill="#b83040"><rect x="55.00" y="243.00" width="2.42" height="1"/><rect x="57.42" y="243.00" width="2.42" height="1"/><rect x="59.83" y="236.50" width="2.42" height="1"/><rect x="62.25" y="223.50" width="2.42" height="1"/><rect x="64.67" y="236.50" width="2.42" height="1"/><rect x="67.08" y="236.50" width="2.42" height="1"/><rect x="69.50" y="230.00" width="2.42" height="1"/><rect x="71.92" y="223.50" width="2.42" height="1"/><rect x="74.33" y="217.00" width="2.42" height="1"/><rect x="76.75" y="210.50" width="2.42" height="1"/><rect x="79.17" y="204.00" width="2.42" height="1"/><rect x="81.58" y="184.50" width="2.42" height="1"/><rect x="84.00" y="171.50" width="2.42" height="1"/><rect x="86.42" y="171.50" width="2.42" height="1"/><rect x="88.83" y="165.00" width="2.42" height="1"/><rect x="91.25" y="184.50" width="2.42" height="1"/><rect x="93.67" y="178.00" width="2.42" height="1"/><rect x="96.08" y="158.50" width="2.42" height="1"/><rect x="98.50" y="158.50" width="2.42" height="1"/><rect x="100.92" y="165.00" width="2.42" height="1"/><rect x="103.33" y="139.00" width="2.42" height="1"/><rect x="105.75" y="139.00" width="2.42" height="1"/><rect x="108.17" y="132.50" width="2.42" height="1"/><rect x="110.58" y="132.50" width="2.42" height="1"/><rect x="113.00" y="165.00" width="2.42" height="1"/><rect x="115.42" y="165.00" width="2.42" height="1"/><rect x="117.83" y="152.00" width="2.42" height="1"/><rect x="120.25" y="119.50" width="2.42" height="1"/><rect x="122.67" y="93.50" width="2.42" height="1"/><rect x="125.08" y="106.50" width="2.42" height="1"/><rect x="127.50" y="132.50" width="2.42" height="1"/><rect x="129.92" y="145.50" width="2.42" height="1"/><rect x="132.33" y="152.00" width="2.42" height="1"/><rect x="134.75" y="145.50" width="2.42" height="1"/><rect x="137.17" y="165.00" width="2.42" height="1"/><rect x="139.58" y="158.50" width="2.42" height="1"/><rect x="142.00" y="126.00" width="2.42" height="1"/><rect x="144.42" y="132.50" width="2.42" height="1"/><rect x="146.83" y="132.50" width="2.42" height="1"/><rect x="149.25" y="139.00" width="2.42" height="1"/><rect x="151.67" y="158.50" width="2.42" height="1"/><rect x="154.08" y="171.50" width="2.42" height="1"/><rect x="156.50" y="168.25" width="2.42" height="1"/><rect x="158.92" y="152.00" width="2.42" height="1"/><rect x="161.33" y="158.50" width="2.42" height="1"/><rect x="163.75" y="145.50" width="2.42" height="1"/><rect x="166.17" y="145.50" width="2.42" height="1"/><rect x="168.58" y="145.50" width="2.42" height="1"/><rect x="171.00" y="158.50" width="2.42" height="1"/><rect x="173.42" y="139.00" width="2.42" height="1"/><rect x="175.83" y="139.00" width="2.42" height="1"/><rect x="178.25" y="158.50" width="2.42" height="1"/><rect x="180.67" y="178.00" width="2.42" height="1"/><rect x="183.08" y="171.50" width="2.42" height="1"/><rect x="185.50" y="171.50" width="2.42" height="1"/><rect x="187.92" y="165.00" width="2.42" height="1"/><rect x="190.33" y="158.50" width="2.42" height="1"/><rect x="192.75" y="165.00" width="2.42" height="1"/><rect x="195.17" y="152.00" width="2.42" height="1"/><rect x="197.58" y="165.00" width="2.42" height="1"/><rect x="200.00" y="178.00" width="2.42" height="1"/><rect x="202.42" y="191.00" width="2.42" height="1"/><rect x="204.83" y="184.50" width="2.42" height="1"/><rect x="207.25" y="165.00" width="2.42" height="1"/><rect x="209.67" y="139.00" width="2.42" height="1"/><rect x="212.08" y="139.00" width="2.42" height="1"/><rect x="214.50" y="145.50" width="2.42" height="1"/><rect x="216.92" y="139.00" width="2.42" height="1"/><rect x="219.33" y="158.50" width="2.42" height="1"/><rect x="221.75" y="139.00" width="2.42" height="1"/><rect x="224.17" y="152.00" width="2.42" height="1"/><rect x="226.58" y="145.50" width="2.42" height="1"/><rect x="229.00" y="171.50" width="2.42" height="1"/><rect x="231.42" y="158.50" width="2.42" height="1"/><rect x="233.83" y="152.00" width="2.42" height="1"/><rect x="236.25" y="158.50" width="2.42" height="1"/><rect x="238.67" y="165.00" width="2.42" height="1"/><rect x="241.08" y="165.00" width="2.42" height="1"/><rect x="243.50" y="158.50" width="2.42" height="1"/><rect x="245.92" y="152.00" width="2.42" height="1"/><rect x="248.33" y="126.00" width="2.42" height="1"/><rect x="250.75" y="139.00" width="2.42" height="1"/><rect x="253.17" y="145.50" width="2.42" height="1"/><rect x="255.58" y="145.50" width="2.42" height="1"/><rect x="258.00" y="139.00" width="2.42" height="1"/><rect x="260.42" y="139.00" width="2.42" height="1"/><rect x="262.83" y="152.00" width="2.42" height="1"/><rect x="265.25" y="139.00" width="2.42" height="1"/><rect x="267.67" y="132.50" width="2.42" height="1"/><rect x="270.08" y="132.50" width="2.42" height="1"/><rect x="272.50" y="139.00" width="2.42" height="1"/><rect x="274.92" y="145.50" width="2.42" height="1"/><rect x="277.33" y="178.00" width="2.42" height="1"/><rect x="279.75" y="191.00" width="2.42" height="1"/><rect x="282.17" y="171.50" width="2.42" height="1"/><rect x="284.58" y="171.50" width="2.42" height="1"/><rect x="287.00" y="178.00" width="2.42" height="1"/><rect x="289.42" y="178.00" width="2.42" height="1"/><rect x="291.83" y="171.50" width="2.42" height="1"/><rect x="294.25" y="171.50" width="2.42" height="1"/><rect x="296.67" y="171.50" width="2.42" height="1"/><rect x="299.08" y="171.50" width="2.42" height="1"/><rect x="301.50" y="178.00" width="2.42" height="1"/><rect x="303.92" y="184.50" width="2.42" height="1"/><rect x="306.33" y="158.50" width="2.42" height="1"/><rect x="308.75" y="132.50" width="2.42" height="1"/><rect x="311.17" y="93.50" width="2.42" height="1"/><rect x="313.58" y="93.50" width="2.42" height="1"/><rect x="316.00" y="87.00" width="2.42" height="1"/><rect x="318.42" y="80.50" width="2.42" height="1"/><rect x="320.83" y="61.00" width="2.42" height="1"/><rect x="323.25" y="80.50" width="2.42" height="1"/><rect x="325.67" y="54.50" width="2.42" height="1"/><rect x="328.08" y="35.00" width="2.42" height="1"/><rect x="330.50" y="35.00" width="2.42" height="1"/><rect x="332.92" y="48.00" width="2.42" height="1"/><rect x="335.33" y="61.00" width="2.42" height="1"/><rect x="337.75" y="87.00" width="2.42" height="1"/><rect x="340.17" y="158.50" width="2.42" height="1"/><rect x="342.58" y="191.00" width="2.42" height="1"/><rect x="345.00" y="223.50" width="2.42" height="1"/><rect x="347.42" y="217.00" width="2.42" height="1"/><rect x="349.83" y="256.00" width="2.42" height="1"/><rect x="352.25" y="256.00" width="2.42" height="1"/><rect x="357.08" y="300.50" width="2.42" height="1"/><rect x="359.50" y="339.50" width="2.42" height="1"/><rect x="361.92" y="307.00" width="2.42" height="1"/><rect x="364.33" y="313.50" width="2.42" height="1"/><rect x="366.75" y="300.50" width="2.42" height="1"/><rect x="369.17" y="262.50" width="2.42" height="1"/><rect x="371.58" y="236.50" width="2.42" height="1"/><rect x="374.00" y="233.25" width="2.42" height="1"/><rect x="376.42" y="236.50" width="2.42" height="1"/><rect x="378.83" y="191.00" width="2.42" height="1"/><rect x="381.25" y="191.00" width="2.42" height="1"/><rect x="383.67" y="184.50" width="2.42" height="1"/><rect x="386.08" y="197.50" width="2.42" height="1"/><rect x="388.50" y="184.50" width="2.42" height="1"/><rect x="390.92" y="191.00" width="2.42" height="1"/><rect x="393.33" y="171.50" width="2.42" height="1"/><rect x="395.75" y="171.50" width="2.42" height="1"/><rect x="398.17" y="171.50" width="2.42" height="1"/><rect x="400.58" y="152.00" width="2.42" height="1"/><rect x="403.00" y="145.50" width="2.42" height="1"/><rect x="405.42" y="139.00" width="2.42" height="1"/><rect x="407.83" y="119.50" width="2.42" height="1"/><rect x="410.25" y="113.00" width="2.42" height="1"/><rect x="412.67" y="119.50" width="2.42" height="1"/><rect x="415.08" y="119.50" width="2.42" height="1"/><rect x="417.50" y="132.50" width="2.42" height="1"/><rect x="419.92" y="132.50" width="2.42" height="1"/><rect x="422.33" y="100.00" width="2.42" height="1"/><rect x="424.75" y="100.00" width="2.42" height="1"/><rect x="427.17" y="100.00" width="2.42" height="1"/><rect x="429.58" y="119.50" width="2.42" height="1"/><rect x="432.00" y="119.50" width="2.42" height="1"/><rect x="434.42" y="119.50" width="2.42" height="1"/><rect x="436.83" y="119.50" width="2.42" height="1"/><rect x="439.25" y="126.00" width="2.42" height="1"/><rect x="441.67" y="139.00" width="2.42" height="1"/><rect x="444.08" y="139.00" width="2.42" height="1"/><rect x="446.50" y="139.00" width="2.42" height="1"/><rect x="448.92" y="126.00" width="2.42" height="1"/><rect x="451.33" y="126.00" width="2.42" height="1"/><rect x="453.75" y="132.50" width="2.42" height="1"/><rect x="456.17" y="152.00" width="2.42" height="1"/><rect x="458.58" y="152.00" width="2.42" height="1"/><rect x="461.00" y="165.00" width="2.42" height="1"/><rect x="463.42" y="178.00" width="2.42" height="1"/><rect x="465.83" y="184.50" width="2.42" height="1"/><rect x="468.25" y="217.00" width="2.42" height="1"/><rect x="470.67" y="204.00" width="2.42" height="1"/><rect x="473.08" y="191.00" width="2.42" height="1"/><rect x="475.50" y="191.00" width="2.42" height="1"/><rect x="477.92" y="210.50" width="2.42" height="1"/><rect x="480.33" y="223.50" width="2.42" height="1"/><rect x="482.75" y="249.50" width="2.42" height="1"/><rect x="485.17" y="236.50" width="2.42" height="1"/><rect x="487.58" y="243.00" width="2.42" height="1"/><rect x="490.00" y="243.00" width="2.42" height="1"/><rect x="492.42" y="249.50" width="2.42" height="1"/><rect x="494.83" y="262.50" width="2.42" height="1"/><rect x="497.25" y="249.50" width="2.42" height="1"/><rect x="499.67" y="262.50" width="2.42" height="1"/><rect x="502.08" y="262.50" width="2.42" height="1"/><rect x="504.50" y="269.00" width="2.42" height="1"/><rect x="506.92" y="269.00" width="2.42" height="1"/><rect x="509.33" y="275.50" width="2.42" height="1"/><rect x="511.75" y="269.00" width="2.42" height="1"/><rect x="514.17" y="275.50" width="2.42" height="1"/><rect x="516.58" y="307.00" width="2.42" height="1"/><rect x="519.00" y="333.00" width="2.42" height="1"/><rect x="521.42" y="313.50" width="2.42" height="1"/><rect x="523.83" y="300.50" width="2.42" height="1"/><rect x="528.67" y="275.50" width="2.42" height="1"/><rect x="531.08" y="282.00" width="2.42" height="1"/><rect x="533.50" y="282.00" width="2.42" height="1"/><rect x="535.92" y="288.50" width="2.42" height="1"/><rect x="538.33" y="300.50" width="2.42" height="1"/><rect x="540.75" y="288.50" width="2.42" height="1"/><rect x="543.17" y="288.50" width="2.42" height="1"/><rect x="545.58" y="282.00" width="2.42" height="1"/><rect x="548.00" y="275.50" width="2.42" height="1"/><rect x="550.42" y="307.00" width="2.42" height="1"/><rect x="555.25" y="307.00" width="2.42" height="1"/><rect x="557.67" y="300.50" width="2.42" height="1"/><rect x="560.08" y="288.50" width="2.42" height="1"/><rect x="562.50" y="282.00" width="2.42" height="1"/><rect x="564.92" y="282.00" width="2.42" height="1"/><rect x="567.33" y="269.00" width="2.42" height="1"/><rect x="569.75" y="262.50" width="2.42" height="1"/><rect x="572.17" y="256.00" width="2.42" height="1"/><rect x="574.58" y="223.50" width="2.42" height="1"/></g>
<line x1="51" y1="35" x2="606.5" y2="35" stroke="#7c7c7c" stroke-width="1.7"/>
<line x1="51" y1="116.25" x2="606.5" y2="116.25" stroke="#7c7c7c" stroke-width="1.7"/>
<line x1="51" y1="197.5" x2="606.5" y2="197.5" stroke="#7c7c7c" stroke-width="1.7"/>
<line x1="51" y1="278.75" x2="606.5" y2="278.75" stroke="#7c7c7c" stroke-width="1.7"/>
<g clip-path="url(#bc)">
<line x1="51" y1="35" x2="606.5" y2="35" stroke="#b8303a" stroke-width="1.5"/>
<line x1="51" y1="116.25" x2="606.5" y2="116.25" stroke="#b8303a" stroke-width="1.5"/>
<line x1="51" y1="197.5" x2="606.5" y2="197.5" stroke="#b8303a" stroke-width="1.5"/>
<line x1="51" y1="278.75" x2="606.5" y2="278.75" stroke="#b8303a" stroke-width="1.5"/>
</g>
<line x1="55" y1="295.2" x2="606" y2="295.2" stroke="#a84858" stroke-width="1.6"/>
<line x1="55" y1="295.2" x2="606" y2="295.2" stroke="#d42838" stroke-width="1.6" clip-path="url(#bc)"/>
<line x1="55" y1="165" x2="606" y2="165" stroke="#a43c4a" stroke-width="2.3"/>
<line x1="55" y1="165" x2="606" y2="165" stroke="#dd1020" stroke-width="2.3" clip-path="url(#bc)"/>
<line x1="54.75" y1="35" x2="54.75" y2="364" stroke="#777" stroke-width="1.5"/>
<line x1="51" y1="360.5" x2="609.5" y2="360.5" stroke="#777" stroke-width="1.5"/>
<line x1="606.3" y1="35" x2="606.3" y2="360.5" stroke="#888" stroke-width="1.2"/>
<line x1="606" y1="35" x2="611" y2="35" stroke="#777" stroke-width="1.2"/>
<line x1="606" y1="100" x2="611" y2="100" stroke="#777" stroke-width="1.2"/>
<line x1="606" y1="165" x2="611" y2="165" stroke="#777" stroke-width="1.2"/>
<line x1="606" y1="230" x2="611" y2="230" stroke="#777" stroke-width="1.2"/>
<line x1="606" y1="295" x2="611" y2="295" stroke="#777" stroke-width="1.2"/>
<line x1="606" y1="360" x2="611" y2="360" stroke="#777" stroke-width="1.2"/>
<line x1="55.0" y1="360" x2="55.0" y2="364" stroke="#777" stroke-width="1.2"/>
<line x1="142.0" y1="360" x2="142.0" y2="364" stroke="#777" stroke-width="1.2"/>
<line x1="229.0" y1="360" x2="229.0" y2="364" stroke="#777" stroke-width="1.2"/>
<line x1="316.0" y1="360" x2="316.0" y2="364" stroke="#777" stroke-width="1.2"/>
<line x1="403.0" y1="360" x2="403.0" y2="364" stroke="#777" stroke-width="1.2"/>
<line x1="490.0" y1="360" x2="490.0" y2="364" stroke="#777" stroke-width="1.2"/>
<line x1="577.0" y1="360" x2="577.0" y2="364" stroke="#777" stroke-width="1.2"/>
<polyline points="55.0,345.0 60.0,344.4 65.0,344.4 67.5,345.0 70.0,341.0 75.0,342.2 80.0,340.6 82.5,336.0 86.9,340.0 91.2,337.8 93.8,337.5 96.9,335.2 101.2,336.5 104.4,333.8 107.5,334.4 111.2,333.1 116.2,330.6 120.0,332.5 123.8,334.4 126.9,331.0 130.0,332.5 133.1,334.8 135.0,334.8 140.0,334.4 142.5,333.1 145.6,337.5 148.1,334.8 151.2,336.5 155.6,337.2 160.6,338.5 165.0,336.2 167.5,335.6 169.4,333.8 172.5,337.2 177.5,336.9 182.5,335.6 186.2,333.8 188.8,335.0 191.2,334.0 195.0,333.8 198.1,333.1 203.1,334.8 206.9,333.5 211.2,329.0 215.0,328.5 219.4,329.0 225.0,327.8 228.1,329.4 233.1,326.0 239.4,325.2 243.8,320.0 246.9,320.6 251.9,319.0 255.0,317.5 259.4,315.0 266.2,313.5 270.0,311.1 273.1,309.1 277.0,310.5 280.9,309.5 285.6,307.2 290.3,307.6 295.0,305.6 301.2,302.5 302.8,303.3 304.8,307.6 306.7,301.7 309.1,299.0 311.4,297.8 313.0,293.0 314.6,278.0 316.9,292.4 321.7,287.6 327.4,284.7 331.3,282.8 335.1,282.8 337.0,274.1 338.2,260.0 339.1,238.4 341.5,236.5 344.4,237.5 346.8,247.1 349.7,253.3 353.0,252.8 355.9,254.3 358.8,239.4 360.7,247.1 363.1,251.9 366.5,254.8 370.3,258.1 373.2,250.9 376.1,248.0 379.4,246.8 383.7,236.0 386.6,226.6 388.7,231.7 390.9,238.8 393.8,241.7 397.4,246.0 401.7,238.1 406.7,243.2 411.8,247.5 415.4,243.2 419.7,238.1 422.6,217.3 425.4,213.7 428.3,206.0 430.6,182.0 434.4,182.0 437.3,161.0 443.0,159.0 445.9,148.4 451.7,150.4 459.3,153.2 462.2,161.9 466.1,177.2 470.9,187.8 474.7,196.4 480.0,209.5 485.0,213.1 489.4,215.3 492.2,221.0 496.5,226.0 500.9,222.4 503.7,228.9 506.6,234.0 510.9,235.4 515.3,234.0 518.8,226.0 522.4,224.6 526.0,214.5 529.6,204.5 532.5,195.1 536.8,193.7 540.4,187.2 545.8,178.7 550.6,172.0 554.4,165.3 557.3,157.6 561.1,148.9 563.0,141.3 565.0,134.5 567.8,125.0 570.7,117.3 575.1,103.8 578.4,96.2 581.8,87.0 586.8,78.6 592.7,68.6 597.7,58.5 601.9,50.1 605.8,40.5" fill="none" stroke="#2020aa" stroke-width="3.3" stroke-linejoin="round" stroke-linecap="round"/>
<text x="44.2" y="38.60" font-size="12.3" fill="#333" stroke="#333" stroke-width="0.12" text-anchor="end">4.500</text>
<text x="44.2" y="119.85" font-size="12.3" fill="#333" stroke="#333" stroke-width="0.12" text-anchor="end">3.500</text>
<text x="44.2" y="201.10" font-size="12.3" fill="#333" stroke="#333" stroke-width="0.12" text-anchor="end">2.500</text>
<text x="44.2" y="282.35" font-size="12.3" fill="#333" stroke="#333" stroke-width="0.12" text-anchor="end">1.500</text>
<text x="44.2" y="363.60" font-size="12.3" fill="#333" stroke="#333" stroke-width="0.12" text-anchor="end">500</text>
<text x="617" y="39.00" font-size="12.3" fill="#333" stroke="#333" stroke-width="0.12">4</text>
<text x="617" y="104.00" font-size="12.3" fill="#333" stroke="#333" stroke-width="0.12">3</text>
<text x="617" y="169.00" font-size="12.3" fill="#333" stroke="#333" stroke-width="0.12">2</text>
<text x="617" y="234.00" font-size="12.3" fill="#333" stroke="#333" stroke-width="0.12">1</text>
<text x="617" y="299.00" font-size="12.3" fill="#333" stroke="#333" stroke-width="0.12">0</text>
<text x="617" y="364.00" font-size="12.3" fill="#333" stroke="#333" stroke-width="0.12">-1</text>
<text x="56.40" y="378.4" font-size="12.3" fill="#333" stroke="#333" stroke-width="0.12" text-anchor="middle">1999</text>
<text x="143.53" y="378.4" font-size="12.3" fill="#333" stroke="#333" stroke-width="0.12" text-anchor="middle">2002</text>
<text x="230.66" y="378.4" font-size="12.3" fill="#333" stroke="#333" stroke-width="0.12" text-anchor="middle">2005</text>
<text x="317.79" y="378.4" font-size="12.3" fill="#333" stroke="#333" stroke-width="0.12" text-anchor="middle">2008</text>
<text x="404.92" y="378.4" font-size="12.3" fill="#333" stroke="#333" stroke-width="0.12" text-anchor="middle">2011</text>
<text x="492.05" y="378.4" font-size="12.3" fill="#333" stroke="#333" stroke-width="0.12" text-anchor="middle">2014</text>
<text x="579.18" y="378.4" font-size="12.3" fill="#333" stroke="#333" stroke-width="0.12" text-anchor="middle">2017</text>
<text x="59" y="50" font-size="12.5" word-spacing="-1.5" fill="#3232b0">Geldversorgung EZB,</text>
<text x="59" y="64" font-size="12.5" word-spacing="-1.5" fill="#3232b0">Mrd. Euro</text>
<text x="374" y="134.7" font-size="12.5" fill="#c83c4a" text-anchor="middle">Inflations-</text>
<text x="374" y="148.7" font-size="12.5" fill="#c83c4a" text-anchor="middle">ziel</text>
<text x="374" y="162.2" font-size="12.5" fill="#c83c4a" text-anchor="middle">EZB</text>
<text x="371.2" y="353.2" font-size="12.5" word-spacing="-0.8" fill="#cc3646">Inflationsrate Eurozone, % zum Vorjahr</text>
<text x="488.8" y="401.3" font-size="12.6" word-spacing="-0.9" fill="#333" stroke="#333" stroke-width="0.12">Quelle: EZB, Bloomberg</text>
</svg></body></html>
